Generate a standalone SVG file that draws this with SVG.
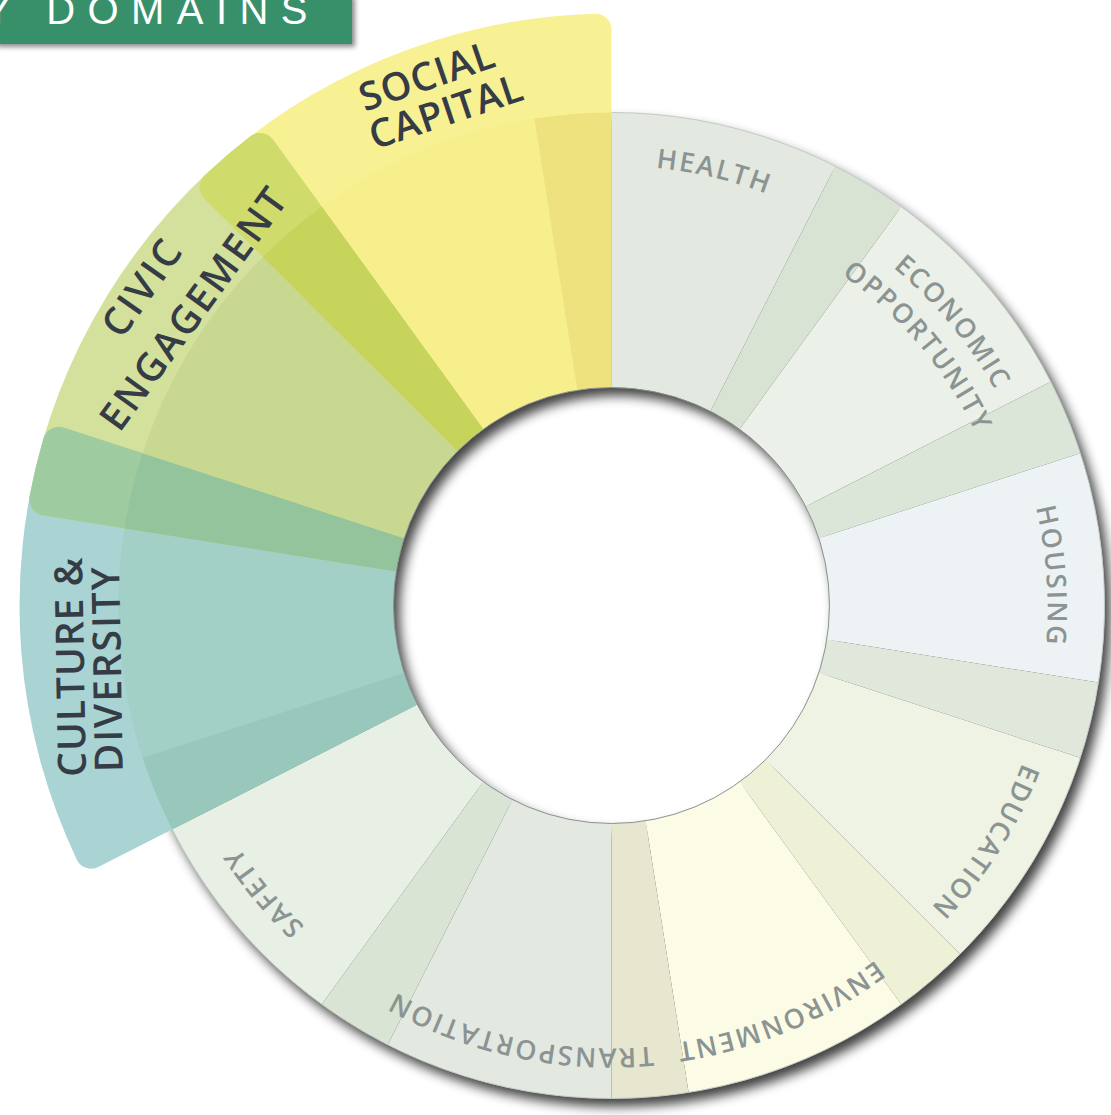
<svg xmlns="http://www.w3.org/2000/svg" width="1111" height="1115" viewBox="0 0 1111 1115">
<style>
.lbl{font-family:"Open Sans","DejaVu Sans",sans-serif;font-weight:600;font-size:27px;letter-spacing:2px;fill:#8b9492}
.hl{font-family:"Open Sans","DejaVu Sans",sans-serif;font-weight:600;font-size:39px;fill:#353c45}
.head{font-family:"Liberation Sans",Arial,sans-serif;font-size:40px;letter-spacing:12.4px;fill:#ffffff}
</style>
<defs>
<filter id="ringShadow" filterUnits="userSpaceOnUse" x="0" y="0" width="1111" height="1115">
<feGaussianBlur in="SourceAlpha" stdDeviation="6"/>
<feOffset dx="6" dy="8"/>
<feComponentTransfer><feFuncA type="linear" slope="0.75"/></feComponentTransfer>
</filter>
<filter id="hdrShadow" x="-5%" y="-20%" width="115%" height="160%">
<feDropShadow dx="3" dy="3" stdDeviation="2.5" flood-color="#000" flood-opacity="0.45"/>
</filter>
<path id="tp-health" d="M291.3,303.7 A440,440 0 0 1 1032.9,479.1"/>
<path id="tp-econ1" d="M537.4,171.8 A440,440 0 0 1 1024.2,758.2"/>
<path id="tp-econ2" d="M540.0,209.0 A403,403 0 0 1 990.8,741.9"/>
<path id="tp-housing" d="M800.9,213.1 A441,441 0 0 1 857.4,971.8"/>
<path id="tp-education" d="M1001.1,401.0 A440,440 0 0 1 593.8,1045.1"/>
<path id="tp-environment" d="M1049.7,663.2 A442,442 0 0 1 342.4,956.2"/>
<path id="tp-transport" d="M940.7,901.9 A443,443 0 0 1 190.2,742.4"/>
<path id="tp-safety" d="M684.8,1043.4 A444,444 0 0 1 195.6,450.0"/>
</defs>
<rect x="0" y="0" width="1111" height="1115" fill="#ffffff"/>

<g id="ring-shadow">
<circle cx="611.5" cy="605.5" r="355.5" fill="none" stroke="#000" stroke-width="275" filter="url(#ringShadow)"/>
</g>

<g id="node-health">
<path fill="#e3e9e0" d="M611.5,112.5 A493,493 0 0 1 835.32,166.23 L710.47,411.26 A218,218 0 0 0 611.5,387.5 Z"/>
<path fill="#d8e3d3" d="M835.32,166.23 A493,493 0 0 1 901.28,206.65 L739.64,429.13 A218,218 0 0 0 710.47,411.26 Z"/>
<text class="lbl"><textPath href="#tp-health" startOffset="50%" text-anchor="middle">HEALTH</textPath></text>
</g>

<g id="node-economic-opportunity">
<path fill="#ebf1e8" d="M901.28,206.65 A493,493 0 0 1 1050.77,381.68 L805.74,506.53 A218,218 0 0 0 739.64,429.13 Z"/>
<path fill="#dbe6d8" d="M1050.77,381.68 A493,493 0 0 1 1080.37,453.15 L818.83,538.13 A218,218 0 0 0 805.74,506.53 Z"/>
<text class="lbl"><textPath href="#tp-econ1" startOffset="50%" text-anchor="middle">ECONOMIC</textPath></text>
<text class="lbl"><textPath href="#tp-econ2" startOffset="50%" text-anchor="middle">OPPORTUNITY</textPath></text>
</g>

<g id="node-housing">
<path fill="#edf3f5" d="M1080.37,453.15 A493,493 0 0 1 1098.43,682.62 L826.82,639.60 A218,218 0 0 0 818.83,538.13 Z"/>
<path fill="#dfe8da" d="M1098.43,682.62 A493,493 0 0 1 1080.37,757.85 L818.83,672.87 A218,218 0 0 0 826.82,639.60 Z"/>
<text class="lbl"><textPath href="#tp-housing" startOffset="50%" text-anchor="middle">HOUSING</textPath></text>
</g>

<g id="node-education">
<path fill="#eef3e3" d="M1080.37,757.85 A493,493 0 0 1 960.10,954.10 L765.65,759.65 A218,218 0 0 0 818.83,672.87 Z"/>
<path fill="#eff1d6" d="M960.10,954.10 A493,493 0 0 1 901.28,1004.35 L739.64,781.87 A218,218 0 0 0 765.65,759.65 Z"/>
<text class="lbl"><textPath href="#tp-education" startOffset="50%" text-anchor="middle">EDUCATION</textPath></text>
</g>

<g id="node-environment">
<path fill="#fcfbe6" d="M901.28,1004.35 A493,493 0 0 1 688.62,1092.43 L645.60,820.82 A218,218 0 0 0 739.64,781.87 Z"/>
<path fill="#e7e6cf" d="M688.62,1092.43 A493,493 0 0 1 611.5,1098.5 L611.5,823.5 A218,218 0 0 0 645.60,820.82 Z"/>
<text class="lbl"><textPath href="#tp-environment" startOffset="50%" text-anchor="middle">ENVIRONMENT</textPath></text>
</g>

<g id="node-transportation">
<path fill="#e3e9e1" d="M611.5,1098.5 A493,493 0 0 1 387.68,1044.77 L512.53,799.74 A218,218 0 0 0 611.5,823.5 Z"/>
<path fill="#d9e4d4" d="M387.68,1044.77 A493,493 0 0 1 321.72,1004.35 L483.36,781.87 A218,218 0 0 0 512.53,799.74 Z"/>
<text class="lbl"><textPath href="#tp-transport" startOffset="50%" text-anchor="middle">TRANSPORTATION</textPath></text>
</g>

<g id="node-safety">
<path fill="#e8efe4" d="M321.72,1004.35 A493,493 0 0 1 172.23,829.32 L417.26,704.47 A218,218 0 0 0 483.36,781.87 Z"/>
<text class="lbl"><textPath href="#tp-safety" startOffset="50%" text-anchor="middle">SAFETY</textPath></text>
</g>

<g id="ring-edge">
<path d="M611.5,112.5 A493,493 0 1 1 172.23,829.32" fill="none" stroke="#c3cbc6" stroke-width="1"/>
</g>

<g id="node-culture-diversity">
<path fill="#a9d4d3" d="M417.26,704.47 L98.28,867.00 A16,16 0 0 1 76.96,859.91 A592,592 0 0 1 43.73,437.86 A16,16 0 0 1 63.69,427.5 L404.17,538.13 A218,218 0 0 0 417.26,704.47 Z"/>
<path fill="#a2cfc6" d="M142.63,757.85 A493,493 0 0 1 124.57,528.38 L396.18,571.40 A218,218 0 0 0 404.17,672.87 Z"/>
<path fill="#97c8bb" d="M172.23,829.32 A493,493 0 0 1 142.63,757.85 L404.17,672.87 A218,218 0 0 0 417.26,704.47 Z"/>
<text class="hl" transform="translate(84,667) rotate(-91)" text-anchor="middle" textLength="219" lengthAdjust="spacing">CULTURE &amp;</text>
<text class="hl" transform="translate(121,669.5) rotate(-91)" text-anchor="middle" textLength="205" lengthAdjust="spacing">DIVERSITY</text>
</g>

<g id="node-social-capital">
<path fill="#f7f194" d="M457.35,451.35 L204.21,198.21 A16,16 0 0 1 204.37,175.73 A592,592 0 0 1 595.49,13.72 A16,16 0 0 1 611.5,29.5 L611.5,387.5 A218,218 0 0 0 457.35,451.35 Z"/>
<path fill="#f6ef8b" d="M321.72,206.65 A493,493 0 0 1 534.38,118.57 L577.40,390.18 A218,218 0 0 0 483.36,429.13 Z"/>
<path fill="#ede27e" d="M534.38,118.57 A493,493 0 0 1 611.5,112.5 L611.5,387.5 A218,218 0 0 0 577.40,390.18 Z"/>
<text class="hl" transform="translate(431,89) rotate(-19)" text-anchor="middle" textLength="140" lengthAdjust="spacing">SOCIAL</text>
<text class="hl" transform="translate(450,124.5) rotate(-18.5)" text-anchor="middle" textLength="159" lengthAdjust="spacing">CAPITAL</text>
</g>

<g id="node-civic-engagement">
<path fill="#d3e19c" d="M396.18,571.40 L42.59,515.40 A16,16 0 0 1 29.50,497.10 A592,592 0 0 1 250.76,136.10 A16,16 0 0 1 272.93,139.5 L483.36,429.13 A218,218 0 0 0 396.18,571.40 Z"/>
<path fill="#9ecb9f" d="M396.18,571.40 L42.59,515.40 A16,16 0 0 1 29.50,497.10 A592,592 0 0 1 43.73,437.86 A16,16 0 0 1 63.69,427.5 L404.17,538.13 A218,218 0 0 0 396.18,571.40 Z"/>
<path fill="#cfdc6c" d="M457.35,451.35 L204.21,198.21 A16,16 0 0 1 204.37,175.73 A592,592 0 0 1 250.76,136.10 A16,16 0 0 1 272.93,139.5 L483.36,429.13 A218,218 0 0 0 457.35,451.35 Z"/>
<path fill="#94c49b" d="M124.57,528.38 A493,493 0 0 1 142.63,453.15 L404.17,538.13 A218,218 0 0 0 396.18,571.40 Z"/>
<path fill="#c8d891" d="M142.63,453.15 A493,493 0 0 1 262.90,256.90 L457.35,451.35 A218,218 0 0 0 404.17,538.13 Z"/>
<path fill="#c6d45c" d="M262.90,256.90 A493,493 0 0 1 321.72,206.65 L483.36,429.13 A218,218 0 0 0 457.35,451.35 Z"/>
<text class="hl" transform="translate(152.7,296) rotate(-55)" text-anchor="middle" textLength="108" lengthAdjust="spacing">CIVIC</text>
<text class="hl" transform="translate(204.2,317) rotate(-54)" text-anchor="middle" textLength="288" lengthAdjust="spacing">ENGAGEMENT</text>
</g>

<g id="hole-edge">
<circle cx="611.5" cy="605.5" r="218" fill="none" stroke="#8c928e" stroke-width="1"/>
</g>

<g id="title">
<rect x="-6" y="-6" width="358" height="50" fill="#37906a" filter="url(#hdrShadow)"/>
<text class="head" x="-15.6" y="24">Y DOMAINS</text>
</g>
</svg>
